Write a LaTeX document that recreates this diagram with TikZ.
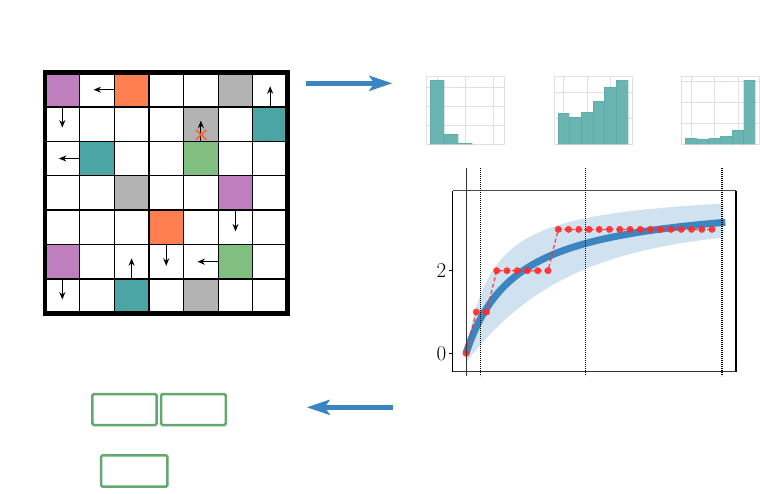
\documentclass[tikz,border=0pt]{standalone}
\usetikzlibrary{arrows.meta}
\definecolor{cpurple}{HTML}{BF7FBF}
\definecolor{corange}{HTML}{FF7F50}
\definecolor{cgray}{HTML}{B3B3B3}
\definecolor{cteal}{HTML}{4CA5A5}
\definecolor{cgreen}{HTML}{80BF7F}
\definecolor{bigblue}{HTML}{3B86C0}
\definecolor{bandblue}{HTML}{D0E2EF}
\definecolor{histbar}{HTML}{62B0AE}
\definecolor{histgrid}{HTML}{E0E0E0}
\definecolor{boxgreen}{HTML}{62A871}
\definecolor{xorange}{HTML}{FF5A1F}
\definecolor{dotred}{HTML}{FF2A2A}
\tikzset{
  gridarrow/.style={-{Stealth[length=7.5pt,width=6pt]}, line width=1.2pt, black},
  bigarrow/.style={-{Stealth[length=23pt,width=15pt,inset=5pt]}, line width=5.5pt, bigblue},
  greenbox/.style={draw=boxgreen, line width=2.5pt, rounded corners=1.5pt, inner sep=0pt},
  hframe/.style={draw=histgrid, line width=0.9pt},
  hgridline/.style={histgrid, line width=0.8pt},
  hbar/.style={fill=histbar, fill opacity=0.95, draw=histbar!85!black, draw opacity=0.25, line width=0.4pt},
  vdot/.style={black, line width=1.3pt, dash pattern=on 1.1pt off 0.9pt},
  reddash/.style={dotred, opacity=0.85, line width=1.3pt, dash pattern=on 4pt off 2.5pt},
  reddot/.style={fill=dotred, fill opacity=0.9, draw=none},
}
\begin{document}
\begin{tikzpicture}[x=1pt,y=-1pt]
\useasboundingbox (0,0) rectangle (760,493);

% ---------------- grid world ----------------
\begin{scope}[xshift=45pt, yshift=-72.5pt, x=34.64pt, y=-34.4pt]
  \fill[cpurple] (0,0) rectangle (1,1);
  \fill[corange] (2,0) rectangle (3,1);
  \fill[cgray]   (5,0) rectangle (6,1);
  \fill[cgray]   (4,1) rectangle (5,2);
  \fill[cteal]   (6,1) rectangle (7,2);
  \fill[cteal]   (1,2) rectangle (2,3);
  \fill[cgreen]  (4,2) rectangle (5,3);
  \fill[cgray]   (2,3) rectangle (3,4);
  \fill[cpurple] (5,3) rectangle (6,4);
  \fill[corange] (3,4) rectangle (4,5);
  \fill[cpurple] (0,5) rectangle (1,6);
  \fill[cgreen]  (5,5) rectangle (6,6);
  \fill[cteal]   (2,6) rectangle (3,7);
  \fill[cgray]   (4,6) rectangle (5,7);
  \foreach \i in {1,...,6} {
    \draw[line width=1.3pt] (\i,0) -- (\i,7);
    \draw[line width=1.3pt] (0,\i) -- (7,\i);
  }
  \draw[line width=4.5pt] (0,0) rectangle (7,7);
  % arrows
  \draw[gridarrow] (2,0.5) -- (1.4,0.5);
  \draw[gridarrow] (0.5,1) -- (0.5,1.6);
  \draw[gridarrow] (6.5,1) -- (6.5,0.4);
  \draw[gridarrow] (4.5,2) -- (4.5,1.4);
  \draw[gridarrow] (1,2.5) -- (0.4,2.5);
  \draw[gridarrow] (5.5,4) -- (5.5,4.62);
  \draw[gridarrow] (3.5,5) -- (3.5,5.62);
  \draw[gridarrow] (5,5.5) -- (4.4,5.5);
  \draw[gridarrow] (2.5,6) -- (2.5,5.4);
  \draw[gridarrow] (0.5,6) -- (0.5,6.6);
  % cross
  \draw[xorange, line width=1.4pt] (4.36,1.67) -- (4.66,1.95);
  \draw[xorange, line width=1.4pt] (4.36,1.95) -- (4.66,1.67);
\end{scope}

% ---------------- big arrows ----------------
\coordinate (tA) at (305.7,83.3);
\coordinate (tB) at (392.3,83.3);
\coordinate (bA) at (393.3,407.3);
\coordinate (bB) at (306.7,407.3);
\draw[bigarrow] (tA) -- (tB);
\draw[bigarrow] (bA) -- (bB);

% ---------------- histograms ----------------
% hist 1
\foreach \gx in {437.5,465.7,493.3} \draw[hgridline] (\gx,76) -- (\gx,144);
\foreach \gy in {87.3,106,125} \draw[hgridline] (426,\gy) -- (504.3,\gy);
\draw[hframe] (426,76) rectangle (504.3,144);
\draw[hbar] (430,80) rectangle (444,144);
\draw[hbar] (444,134) rectangle (458.3,144);
\draw[hbar] (458.3,143.2) rectangle (472.3,144);
% hist 2
\foreach \gx in {563.3,587.3,610.7} \draw[hgridline] (\gx,76) -- (\gx,144);
\foreach \gy in {92.7,118.3} \draw[hgridline] (554.3,\gy) -- (632.3,\gy);
\draw[hframe] (554.3,76) rectangle (632.3,144);
\foreach \i/\t in {0/112.7,1/116.7,2/111.7,3/101,4/86.7,5/80}
  \draw[hbar] ({557.7+11.67*\i},\t) rectangle ({557.7+11.67*(\i+1)},144);
% hist 3
\foreach \gx in {691.3,714.3,738.7} \draw[hgridline] (\gx,76) -- (\gx,144);
\foreach \gy in {81.7,102.3,123.3} \draw[hgridline] (681.3,\gy) -- (759.3,\gy);
\draw[hframe] (681.3,76) rectangle (759.3,144);
\foreach \i/\t in {0/138.3,1/139.3,2/138.3,3/136,4/130.3,5/80}
  \draw[hbar] ({685.3+11.67*\i},\t) rectangle ({685.3+11.67*(\i+1)},144);

% ---------------- line plot ----------------
\fill[bandblue]
  plot[domain=0:25.1, samples=70, smooth] ({466+10.25*\x},{353.3-41.3*4.0*\x/(\x+2.6)})
  -- plot[domain=25.1:0, samples=70, smooth] ({466+10.25*\x},{353.3-41.3*(-0.23+3.3*(1-exp(-\x/10)))})
  -- cycle;
\draw[bigblue, line width=7pt] plot[domain=0:25.3, samples=80, smooth]
  ({466+10.25*\x},{353.3-41.3*3.8*\x/(\x+5)});
\draw[reddash] plot coordinates {(466,353.3) (476.25,312) (486.5,312) (496.75,270.7)
  (507,270.7) (517.25,270.7) (527.5,270.7) (537.75,270.7) (548,270.7) (558.25,229.4) (712,229.4)};
\foreach \i/\v in {0/0,1/1,2/1,3/2,4/2,5/2,6/2,7/2,8/2}
  \fill[reddot] ({466+10.25*\i},{353.3-41.3*\v}) circle (3.5);
\foreach \i in {9,...,24}
  \fill[reddot] ({466+10.25*\i},229.4) circle (3.5);
% axes
\draw[black!70, line width=0.8pt] (452.7,190.7) -- (736,190.7);
\draw[black!80, line width=0.9pt] (452.7,371.7) -- (736,371.7);
\draw[black, line width=1.3pt] (452.7,190.7) -- (452.7,371.7);
\draw[black, line width=1.3pt] (736,190.7) -- (736,371.7);
\draw[black, line width=0.8pt] (452.7,270.7) -- (449,270.7);
\draw[black, line width=0.8pt] (452.7,353.3) -- (449,353.3);
\node[anchor=east, inner sep=0pt, font=\fontsize{21}{21}\selectfont] (l2) at (446.5,270.7) {2};
\node[anchor=east, inner sep=0pt, font=\fontsize{21}{21}\selectfont] (l0) at (446.5,353.3) {0};
% vertical markers
\draw[black!80, line width=0.7pt] (466,168) -- (466,376);
\draw[vdot] (480.7,168) -- (480.7,376);
\draw[vdot] (585.7,168) -- (585.7,376);
\draw[vdot] (722,168) -- (722,376);

% ---------------- green boxes ----------------
\node[greenbox, minimum width=64.4pt, minimum height=31pt] (g1) at (124.5,409.5) {};
\node[greenbox, minimum width=64.7pt, minimum height=31pt] (g2) at (193.4,409.5) {};
\node[greenbox, minimum width=66.3pt, minimum height=31.4pt] (g3) at (134.2,471) {};
\end{tikzpicture}
\end{document}
